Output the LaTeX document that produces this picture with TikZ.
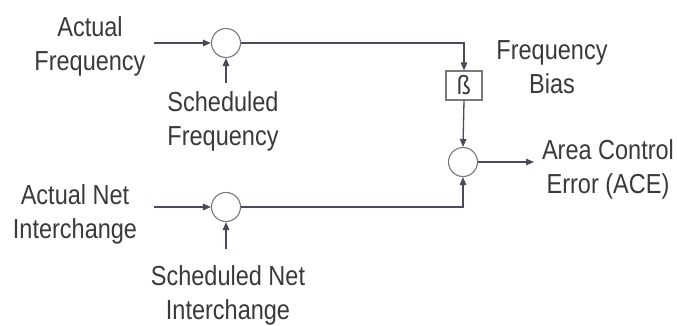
\documentclass[tikz,border=0pt]{standalone}
\usepackage{fontspec}
\setmainfont{Liberation Sans}
\usetikzlibrary{arrows.meta}
\definecolor{linec}{HTML}{4A4A5C}
\definecolor{circc}{HTML}{7A7A7A}
\definecolor{txtc}{HTML}{3A3A3A}
\newcommand{\lbl}[1]{\scalebox{1}[1.17]{\begin{tabular}{@{}c@{}}#1\end{tabular}}}
\tikzset{
  sumnode/.style={circle,draw=circc,line width=1.1pt,minimum size=29pt,inner sep=0pt},
  gainbox/.style={rectangle,draw=circc,line width=1.1pt,minimum width=36pt,minimum height=29pt,inner sep=0pt},
  lab/.style={text=txtc,font=\fontsize{23.5}{28.5}\selectfont,inner sep=0pt},
  conn/.style={draw=linec,line width=1.3pt,-{Triangle[length=8pt,width=6.5pt]}},
  plain/.style={draw=linec,line width=1.3pt}
}
\begin{document}
\begin{tikzpicture}[x=1pt,y=-1pt]
\useasboundingbox[fill=white] (0,0) rectangle (677,326);
% labels
\node[lab] (af) at (90,47) {\lbl{Actual\\Frequency}};
\node[lab] (sf) at (223,122) {\lbl{Scheduled\\Frequency}};
\node[lab] (fb) at (552,70) {\lbl{Frequency\\Bias}};
\node[lab] (ace) at (608,170) {\lbl{Area Control\\Error (ACE)}};
\node[lab] (an) at (75,215) {\lbl{Actual Net\\Interchange}};
\node[lab] (sn) at (228,296) {\lbl{Scheduled Net\\Interchange}};
% blocks
\node[sumnode] (c1) at (226,43) {};
\node[sumnode] (c3) at (226,207) {};
\node[sumnode] (c2) at (463,162) {};
\node[gainbox,text=txtc,font=\fontsize{23}{24}\selectfont] (b) at (464,85.5) {\scalebox{1}[1.15]{\ss}};
% connector endpoints
\coordinate (afin) at (154,43);
\coordinate (sfin) at (226,83);
\coordinate (anin) at (154,207);
\coordinate (snin) at (226,249);
\coordinate (out) at (534,162);
% connectors
\draw[conn] (afin) -- (c1.west);
\draw[conn] (sfin) -- (c1.south);
\draw[conn] (c1.east) -| (b.north);
\draw[conn] (b.south) -- (c2.north);
\draw[conn] (anin) -- (c3.west);
\draw[conn] (snin) -- (c3.south);
\draw[conn] (c3.east) -| (c2.south);
\draw[conn] (c2.east) -- (out);
\end{tikzpicture}
\end{document}
